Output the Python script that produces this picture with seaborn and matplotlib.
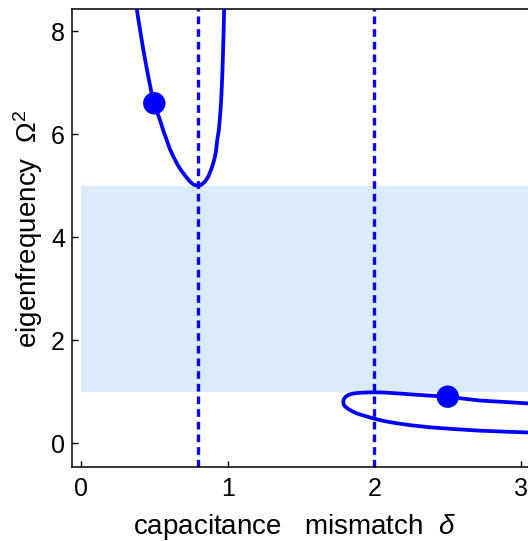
import numpy as np
import pandas as pd
import matplotlib
matplotlib.use("Agg")
import matplotlib.pyplot as plt
import seaborn as sns

# upper branch (U shape near delta = 0.8)
upper_delta = [0.372, 0.39, 0.41, 0.425, 0.45, 0.477, 0.497, 0.52, 0.538, 0.56,
               0.584, 0.605, 0.629, 0.66, 0.68, 0.698, 0.72, 0.74, 0.755, 0.77,
               0.785, 0.80, 0.815, 0.83, 0.845, 0.856, 0.87, 0.88, 0.892, 0.902,
               0.912, 0.92, 0.929, 0.94, 0.948, 0.955, 0.959, 0.964, 0.968,
               0.972, 0.976, 0.978]
upper_omega2 = [8.6, 8.25, 7.9, 7.64, 7.25, 6.86, 6.60, 6.42, 6.28, 6.08,
                5.89, 5.72, 5.57, 5.40, 5.31, 5.24, 5.16, 5.09, 5.05, 5.02,
                5.005, 5.00, 5.01, 5.04, 5.08, 5.12, 5.19, 5.26, 5.35, 5.44,
                5.55, 5.66, 5.89, 6.08, 6.34, 6.62, 6.86, 7.2, 7.55,
                7.95, 8.43, 8.6]

# lower branch (loop starting near delta = 1.79)
lower_delta = [3.10, 2.90, 2.72, 2.55, 2.38, 2.25, 2.15, 2.06, 1.99, 1.93,
               1.88, 1.85, 1.82, 1.80, 1.79, 1.788, 1.792, 1.805, 1.82, 1.845,
               1.88, 1.93, 1.99, 2.07, 2.15, 2.30, 2.49, 2.72, 2.90, 3.10]
lower_omega2 = [0.205, 0.225, 0.245, 0.275, 0.31, 0.35, 0.39, 0.435, 0.485, 0.535,
                0.58, 0.62, 0.67, 0.715, 0.76, 0.81, 0.86, 0.905, 0.935, 0.96,
                0.975, 0.985, 0.99, 0.985, 0.97, 0.94, 0.905, 0.83, 0.80, 0.765]

# marked points
dot_delta = [0.5, 2.5]
dot_omega2 = [6.6, 0.905]

# dashed lines and shaded band
vline_delta = [0.8, 2.0]
band_delta = [0.0, 3.2]
band_low = 1.0
band_high = 5.0

BLUE = "#0000ff"
SHADE = "#dcebfc"

sns.set_style("ticks")
plt.rcParams["font.family"] = ["Liberation Sans", "DejaVu Sans"]
plt.rcParams["mathtext.fontset"] = "custom"
plt.rcParams["mathtext.rm"] = "Liberation Sans"
plt.rcParams["mathtext.it"] = "Liberation Sans:italic"
plt.rcParams["text.color"] = "black"
plt.rcParams["axes.labelcolor"] = "black"

fig = plt.figure(figsize=(5.28, 5.41), dpi=100)
ax = fig.add_axes([72 / 528, 74 / 541, 1 - 72 / 528, 458 / 541])

ax.fill_between(band_delta, band_low, band_high, color=SHADE, lw=0, zorder=0)

for xv in vline_delta:
    ax.axvline(xv, color=BLUE, lw=2.4, linestyle=(0, (2.3, 1.5)), zorder=2)

up = pd.DataFrame({"delta": upper_delta, "omega2": upper_omega2})
lo = pd.DataFrame({"delta": lower_delta, "omega2": lower_omega2})
sns.lineplot(data=up, x="delta", y="omega2", sort=False, estimator=None,
             color=BLUE, lw=2.7, ax=ax, zorder=3)
sns.lineplot(data=lo, x="delta", y="omega2", sort=False, estimator=None,
             color=BLUE, lw=2.7, ax=ax, zorder=3)
sns.scatterplot(x=dot_delta, y=dot_omega2, color=BLUE, s=260, edgecolor="none",
                ax=ax, zorder=4)

ax.set_xlim(-0.061, 3.047)
ax.set_ylim(-0.46, 8.43)
ax.set_xticks([0, 1, 2, 3])
ax.set_yticks([0, 2, 4, 6, 8])
ax.tick_params(direction="in", length=4, width=1, labelsize=18,
               colors="black", labelcolor="black")
ax.tick_params(axis="x", pad=7)
ax.tick_params(axis="y", pad=5)

for side in ["left", "bottom", "top"]:
    ax.spines[side].set_color("black")
    ax.spines[side].set_linewidth(1.1)
ax.spines["right"].set_visible(False)

ax.set_xlabel(r"capacitance   mismatch  $\delta$", fontsize=20)
ax.set_ylabel(r"eigenfrequency  $\mathregular{\Omega^2}$", fontsize=20)
ax.xaxis.set_label_coords(0.487, -0.098)
ax.yaxis.set_label_coords(-0.06, 0.52)

fig.savefig("out.png", dpi=100)
